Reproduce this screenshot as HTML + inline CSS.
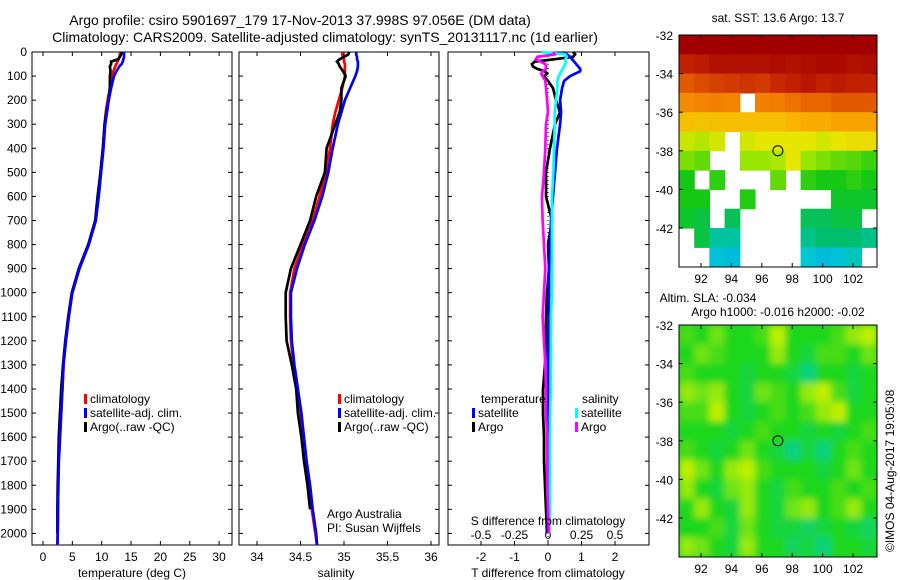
<!DOCTYPE html>
<html><head><meta charset="utf-8"><style>
body{margin:0;background:#fff}
svg{display:block;font-family:"Liberation Sans",sans-serif}
text{font-size:12px;fill:#000}
.t{font-size:14px}
</style></head><body>
<svg id="fig" width="900" height="580" viewBox="0 0 900 580">
<text class="t" x="300" y="25" text-anchor="middle">Argo profile: csiro 5901697_179 17-Nov-2013 37.998S 97.056E (DM data)</text>
<text class="t" x="325" y="42" text-anchor="middle">Climatology: CARS2009. Satellite-adjusted climatology: synTS_20131117.nc (1d earlier)</text>
<text x="778" y="22" text-anchor="middle">sat. SST: 13.6 Argo: 13.7</text>
<text x="708" y="302" text-anchor="middle">Altim. SLA: -0.034</text>
<text x="778" y="316" text-anchor="middle">Argo h1000: -0.016 h2000: -0.02</text>
<text x="0" y="0" transform="translate(894,552) rotate(-90)">©IMOS 04-Aug-2017 19:05:08</text>
<g id="g"></g>
</svg>
<script>
// ---- profile data ----
const depths=[0,10,20,30,40,50,60,80,100,150,200,250,300,400,500,600,700,800,900,1000,1100,1200,1300,1400,1500,1600,1700,1800,1900,2000,2050];
const tempClim=[13.1,13.1,13.0,12.9,12.7,12.5,12.3,12.0,11.8,11.4,11.0,10.7,10.5,10.2,9.8,9.4,9.0,7.8,6.2,5.0,4.4,3.9,3.5,3.3,3.1,2.9,2.7,2.6,2.55,2.5,2.45];
const tempSat=[13.8,13.8,13.8,13.7,13.6,13.4,13.0,12.5,12.1,11.6,11.2,10.9,10.6,10.3,9.9,9.5,9.0,7.8,6.2,5.0,4.4,3.9,3.5,3.3,3.1,2.9,2.7,2.6,2.55,2.5,2.45];
const tempArgo=[13.4,13.3,13.1,12.8,11.6,11.6,11.4,11.5,11.4,11.4,11.2,10.8,10.5,10.2,9.8,9.3,8.9,7.7,6.1,4.9,4.3,3.8,3.4,3.1,2.9,2.7,2.6,2.5,2.45,2.45,null];
const salClim=[34.98,34.98,34.99,35.0,35.0,35.01,35.01,35.01,35.01,34.98,34.94,34.9,34.87,34.84,34.79,34.72,34.64,34.53,34.43,34.38,34.38,34.39,34.42,34.46,34.5,34.53,34.56,34.6,34.63,34.67,34.69];
const salSat=[35.14,35.14,35.15,35.15,35.16,35.16,35.16,35.15,35.13,35.07,35.01,34.97,34.93,34.87,34.82,34.75,34.66,34.55,34.46,34.39,34.39,34.4,34.43,34.47,34.51,34.54,34.57,34.61,34.64,34.68,34.69];
const salArgo=[35.06,35.05,35.0,34.95,34.92,34.94,34.95,34.99,35.02,34.97,34.97,34.95,34.9,34.8,34.78,34.68,34.61,34.5,34.39,34.33,34.33,34.34,34.4,34.45,34.47,34.51,34.54,34.58,34.61,null,null];
// ---- difference panel data ----
const dDepths=[0,10,20,30,40,50,60,70,80,90,100,120,150,200,250,300,400,500,600,700,800,900,1000,1100,1200,1300,1400,1500,1600,1700,1800,1900,2000];
const dTSat=[0.45,0.57,0.66,0.72,0.78,0.84,0.9,0.96,0.96,0.81,0.66,0.48,0.42,0.36,0.39,0.36,0.27,0.21,0.15,0.09,0.06,0.03,0.03,0.02,0.01,0,0,0,0,0,0,0,0];
const dTArgo=[0.75,0.81,0.75,0.21,-0.39,-0.48,-0.45,-0.33,-0.09,-0.03,-0.12,0,0.15,0.24,0.36,0.21,0.06,-0.06,-0.06,0.12,0.0,0.03,-0.03,-0.06,-0.06,-0.09,-0.15,-0.15,-0.12,-0.12,-0.09,-0.06,-0.03];
const dSSat=[-0.05,0.13,0.14,0.13,0.13,0.13,0.12,0.11,0.1,0.09,0.08,0.07,0.07,0.06,0.05,0.05,0.045,0.04,0.03,0.03,0.03,0.03,0.03,0.022,0.022,0.022,0.022,0.015,0.015,0.015,0.015,0.015,0.01];
const dSArgo=[0.04,0.05,-0.08,-0.09,-0.06,-0.02,-0.015,-0.015,-0.04,-0.05,-0.04,-0.02,-0.015,-0.007,0,-0.015,-0.02,-0.03,-0.045,-0.04,-0.03,-0.02,-0.03,-0.04,-0.03,-0.02,-0.015,-0.015,-0.007,-0.007,-0.007,0,0.007];
const depthTicks=[0,100,200,300,400,500,600,700,800,900,1000,1100,1200,1300,1400,1500,1600,1700,1800,1900,2000];
const tempTicks=[0,5,10,15,20,25,30];
const salTicks=[34,34.5,35,35.5,36];
const dTTicks=[-2,-1,0,1,2];
const dSTicks=[-0.5,-0.25,0,0.25,0.5];
// ---- map data (rows lat -32..-44 by 1deg, cols lon 90.55.. by 1deg) ----
const sstGrid=[
[0,0,0,0,0,0,0,0,0,0,0,0,0],
[0.1,0.08,0.05,0.05,0.05,0.05,0.04,0.05,0.04,0.03,0.03,0.05,0.04],
[0.2,0.18,0.16,0.15,0.14,0.15,0.12,0.1,0.07,0.1,0.08,0.1,0.1],
[0.3,0.28,0.27,0.28,null,0.27,0.26,0.24,0.22,0.22,0.2,0.2,0.2],
[0.42,0.43,0.42,0.42,0.42,0.42,0.42,0.4,0.38,0.38,0.36,0.36,0.36],
[0.53,0.55,0.52,null,0.52,0.5,0.5,0.5,0.5,0.52,0.5,0.48,0.48],
[0.6,0.62,null,null,0.58,0.58,0.56,0.5,0.58,0.6,0.62,0.63,0.65],
[0.68,null,0.66,null,null,null,0.62,null,0.66,0.68,0.68,0.66,0.68],
[0.68,0.68,null,null,0.67,null,null,null,null,null,0.7,0.7,0.7],
[0.7,0.72,null,0.74,null,null,null,null,0.74,0.74,0.72,0.72,null],
[null,0.72,0.8,0.8,null,null,null,null,0.78,0.76,0.76,0.76,0.78],
[null,null,0.85,0.86,null,null,null,null,0.84,0.86,0.85,0.82,null]];
const slaGrid=[
[0.6,0.5,0.7,0.5,0.5,0.6,0.9,0.5,0.5,0.5,0.6,0.8,0.9],
[0.5,0.7,0.6,0.5,0.5,0.5,0.8,0.5,0.4,0.6,0.6,0.5,0.7],
[0.6,0.5,0.5,0.5,0.4,0.5,0.5,0.4,0.2,0.5,0.5,0.4,0.5],
[0.8,0.7,0.8,0.5,0.4,0.7,0.6,0.5,0.8,0.9,0.6,0.4,0.5],
[0.6,0.6,0.9,0.5,0.4,0.5,0.6,0.5,0.6,0.8,0.9,0.5,0.5],
[0.5,0.5,0.5,0.4,0.5,0.6,0.5,0.5,0.4,0.5,0.4,0.5,0.6],
[0.6,0.5,0.4,0.5,0.7,0.5,0.4,0.2,0.4,0.2,0.5,0.6,0.5],
[0.9,0.7,0.5,0.8,0.9,0.6,0.5,0.5,0.5,0.4,0.5,0.7,0.5],
[0.8,0.5,0.4,0.7,0.8,0.5,0.4,0.6,0.5,0.5,0.6,0.5,0.6],
[0.5,0.8,0.5,0.4,0.8,0.5,0.4,0.7,0.8,0.5,0.6,0.8,0.5],
[0.5,0.5,0.6,0.4,0.7,0.5,0.4,0.4,0.3,0.4,0.5,0.4,0.3],
[0.8,0.7,0.5,0.4,0.8,0.5,0.5,0.3,0.4,0.2,0.5,0.5,0.4]];
const lonTicks=[92,94,96,98,100,102];
const latTicks=[-32,-34,-36,-38,-40,-42];
const argoLon=97.056, argoLat=-37.998;

const NS='http://www.w3.org/2000/svg';
const G=document.getElementById('g');
function mk(tag,attrs,parent){const e=document.createElementNS(NS,tag);for(const k in attrs)e.setAttribute(k,attrs[k]);(parent||G).appendChild(e);return e;}
function txt(x,y,s,anchor,parent){const e=mk('text',{x:x,y:y,'text-anchor':anchor||'middle'},parent);e.textContent=s;return e;}

const Y0=52, YS=0.2407, YB=545;
const yD=d=>Y0+d*YS;

function panel(name,L,R,xf,ticks,tickFmt){
  const g=mk('g',{});
  
  
  mk('rect',{x:L,y:Y0,width:R-L,height:YB-Y0,fill:'none',stroke:'#000','stroke-width':1},g);
  ticks.forEach(t=>{const x=xf(t);
    mk('line',{x1:x,x2:x,y1:Y0,y2:Y0+4,stroke:'#000'},g);
    mk('line',{x1:x,x2:x,y1:YB,y2:YB-4,stroke:'#000'},g);
    if(tickFmt){const e=txt(x,561,tickFmt(t),'middle',g);}
  });
  depthTicks.forEach(d=>{const y=yD(d);
    mk('line',{x1:L,x2:L+4,y1:y,y2:y,stroke:'#000'},g);
    mk('line',{x1:R,x2:R-4,y1:y,y2:y,stroke:'#000'},g);});
  return g;
}
function line(g,xs,ds,xf,col,name,w){
  let p='';xs.forEach((v,i)=>{if(v==null)return;p+=(p?'L':'M')+xf(v).toFixed(1)+','+yD(ds[i]).toFixed(1);});
  const e=mk('path',{d:p,fill:'none',stroke:col,'stroke-width':w||2.7,'stroke-linejoin':'miter'},g);
  
  
}
function legend(g,x,y,items){
  items.forEach((it,i)=>{mk('rect',{x:x,y:y+i*14-9,width:3,height:10,fill:it[1]},g);
    const e=txt(x+6,y+i*14,it[0],'start',g);
    
    });
}

depthTicks.forEach(d=>{const e=txt(27,yD(d)+4,String(d),'end');
  
  });

const xT=t=>43+5.87*t;
const p1=panel('temperature-panel',32,232,xT,tempTicks,t=>String(t));
line(p1,tempClim,depths,xT,'#f00','temp-climatology-line');
line(p1,tempArgo,depths,xT,'#000','temp-argo-line');
line(p1,tempSat,depths,xT,'#00f','temp-satellite-line');
legend(p1,84,403,[['climatology','#f00'],['satellite-adj. clim.','#00f'],['Argo(..raw -QC)','#000']]);
let e=txt(132,577,'temperature (deg C)','middle',p1);



const xS=s=>257+87*(s-34);
const p2=panel('salinity-panel',239,439,xS,salTicks,t=>String(t));
line(p2,salClim,depths,xS,'#f00','sal-climatology-line');
line(p2,salArgo,depths,xS,'#000','sal-argo-line');
line(p2,salSat,depths,xS,'#00f','sal-satellite-line');
legend(p2,338,403,[['climatology','#f00'],['satellite-adj. clim.','#00f'],['Argo(..raw -QC)','#000']]);
e=txt(336,577,'salinity','middle',p2);


txt(327,518,'Argo Australia','start',p2);
txt(327,532,'PI: Susan Wijffels','start',p2);

const xdT=t=>548+33.5*t, xdS=s=>548+134*s;
const p3=panel('difference-panel',448,649,xdT,dTTicks,t=>String(t));
dSTicks.forEach(s=>{const e=txt(xdS(s),539,String(s),'middle',p3);
  
  });
mk('line',{x1:548,x2:548,y1:Y0,y2:YB,stroke:'#000','stroke-dasharray':'1,3'},p3);
line(p3,dTArgo,dDepths,xdT,'#000','t-diff-argo-line');
line(p3,dTSat,dDepths,xdT,'#00f','t-diff-satellite-line');
line(p3,dSSat,dDepths,xdS,'#0ff','s-diff-satellite-line');
line(p3,dSArgo,dDepths,xdS,'#f0f','s-diff-argo-line');
txt(481,403,'temperature','start',p3);
legend(p3,472,417,[['satellite','#00f'],['Argo','#000']]);
txt(582,403,'salinity','start',p3);
legend(p3,575,417,[['satellite','#0ff'],['Argo','#f0f']]);
txt(548,525,'S difference from climatology','middle',p3);
e=txt(548,577,'T difference from climatology','middle',p3);



function sstColor(v){const st=[[0,[160,0,0]],[0.12,[200,40,0]],[0.25,[240,120,0]],[0.4,[250,180,0]],[0.5,[230,230,0]],[0.58,[150,230,0]],[0.68,[20,200,20]],[0.76,[0,190,110]],[0.84,[0,200,210]],[0.92,[0,150,240]]];
  for(let i=1;i<st.length;i++){if(v<=st[i][0]){const a=st[i-1],b=st[i],f=(v-a[0])/(b[0]-a[0]);return 'rgb('+a[1].map((c,k)=>Math.round(c+f*(b[1][k]-c))).join(',')+')';}}
  return 'rgb(0,150,240)';}
function slaColor(v){const a=[0,205,190],m=[30,215,30],b=[230,245,0];let c,f;
  if(v<0.5){f=v/0.5;c=a.map((x,k)=>x+f*(m[k]-x));}else{f=(v-0.5)/0.5;c=m.map((x,k)=>x+f*(b[k]-x));}
  return 'rgb('+c.map(Math.round).join(',')+')';}
function map(name,L,R,T,B,latTop,latS,grid,colf,blur){
  const lonL=90.55,lonS=15.2;
  const xL=lo=>L+(lo-lonL)*lonS, yL=la=>T+(latTop-la)*latS;
  const g=mk('g',{});
  
  
  mk('clipPath',{id:name+'c'},g).appendChild((()=>{const r=document.createElementNS(NS,'rect');r.setAttribute('x',L);r.setAttribute('y',T);r.setAttribute('width',R-L);r.setAttribute('height',B-T);return r;})());
  const cg=mk('g',{'clip-path':'url(#'+name+'c)'},g);
  if(blur){mk('rect',{x:L,y:T,width:R-L,height:B-T,fill:colf(0.5)},cg);}
  const ig=mk('g',blur?{filter:'url(#bl)'}:{},cg);
  grid.forEach((row,r)=>row.forEach((v,c)=>{if(v==null)return;
    const cell=mk('rect',{x:xL(lonL+c).toFixed(1),y:yL(-32-r).toFixed(1),width:lonS+0.6,height:latS+0.6,fill:colf(v)},ig);
    
    }));
  mk('rect',{x:L,y:T,width:R-L,height:B-T,fill:'none',stroke:'#000'},g);
  lonTicks.forEach(lo=>{const x=xL(lo);mk('line',{x1:x,x2:x,y1:B,y2:B-4,stroke:'#000'},g);mk('line',{x1:x,x2:x,y1:T,y2:T+4,stroke:'#000'},g);
    txt(x,B+16,String(lo),'middle',g);});
  latTicks.forEach(la=>{const y=yL(la);if(y<T-1)return;mk('line',{x1:L,x2:L+4,y1:y,y2:y,stroke:'#000'},g);mk('line',{x1:R,x2:R-4,y1:y,y2:y,stroke:'#000'},g);
    txt(L-6,y+5,String(la),'end',g);});
  const c=mk('circle',{cx:xL(argoLon),cy:yL(argoLat),r:5,fill:'none',stroke:'#000'},g);
  
  
}
const defs=mk('defs',{});
const f=mk('filter',{id:'bl',x:'-10%',y:'-10%',width:'120%',height:'120%'},defs);
mk('feGaussianBlur',{stdDeviation:3.5},f);
map('sst-map',679,877,35,267,-32,19.3,sstGrid,sstColor,false);
map('sla-map',679,877,325,557,-32,19.3,slaGrid,slaColor,true);
</script>
</body></html>
